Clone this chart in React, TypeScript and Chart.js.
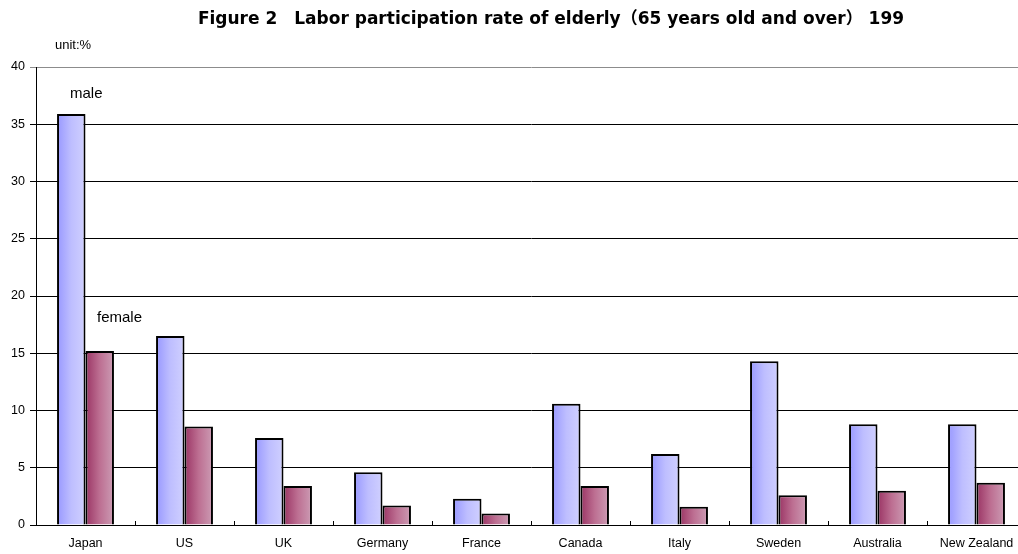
import React, { useEffect, useRef } from "react";
import { Chart, registerables } from "chart.js";

Chart.register(...registerables);

// Labor participation rate (%) of people aged 65 and over
const countries = [
  "Japan",
  "US",
  "UK",
  "Germany",
  "France",
  "Canada",
  "Italy",
  "Sweden",
  "Australia",
  "New Zealand",
];
const maleRates = [35.9, 16.5, 7.6, 4.6, 2.3, 10.6, 6.2, 14.3, 8.8, 8.8];
const femaleRates = [15.2, 8.6, 3.4, 1.7, 1.0, 3.4, 1.6, 2.6, 3.0, 3.7];
const seriesNames = ["male", "female"];

const yMin = 0;
const yMax = 40;
const yStep = 5;

const titleText =
  "Figure 2\u3000Labor participation rate of elderly\uff0865 years old and over\uff09 199";
const unitText = "unit:%";

const FONT = '"Liberation Sans", Arial, "Noto Sans CJK JP", sans-serif';
const TITLE_FONT = '"DejaVu Sans", "Noto Sans CJK JP", sans-serif';
const CATEGORY_SHARE = 0.575;

// Horizontal gradient fills for each bar series: [left, middle, right]
const seriesGradients = [
  ["#9898ff", "#bebeff", "#d0d0ff"],
  ["#9a3464", "#bd6f92", "#cc9cb4"],
];

function barFill(c: any) {
  const chart = c.chart;
  const xs = chart.scales && chart.scales.x;
  const stops = seriesGradients[c.datasetIndex] || seriesGradients[0];
  if (!xs || c.type !== "data" || !isFinite(xs.width) || xs.width <= 0) {
    return stops[1];
  }
  const center = xs.getPixelForValue(c.dataIndex);
  const w = (xs.width / countries.length) * CATEGORY_SHARE / 2;
  const left = c.datasetIndex === 0 ? center - w : center;
  const g = chart.ctx.createLinearGradient(left, 0, left + w, 0);
  g.addColorStop(0, stops[0]);
  g.addColorStop(0.5, stops[1]);
  g.addColorStop(1, stops[2]);
  return g;
}

const annotations = {
  id: "annotations",
  afterDraw(chart: any) {
    const { ctx, chartArea } = chart;
    const xs = chart.scales.x;
    ctx.save();

    // small inward tick marks at category boundaries
    ctx.strokeStyle = "#000";
    ctx.lineWidth = 1;
    for (let i = 1; i < countries.length; i++) {
      const bx =
        Math.round((xs.getPixelForValue(i - 1) + xs.getPixelForValue(i)) / 2) + 0.5;
      ctx.beginPath();
      ctx.moveTo(bx, chartArea.bottom);
      ctx.lineTo(bx, chartArea.bottom - 4);
      ctx.stroke();
    }

    ctx.fillStyle = "#000";
    ctx.textBaseline = "middle";

    ctx.font = `bold 17px ${TITLE_FONT}`;
    ctx.textAlign = "center";
    ctx.fillText(titleText, 551, 20);

    ctx.textAlign = "left";
    ctx.font = `13px ${FONT}`;
    ctx.fillText(unitText, 55, 45);

    ctx.font = `15px ${FONT}`;
    ctx.fillText(seriesNames[0], 70, 94);
    ctx.fillText(seriesNames[1], 97, 318);

    ctx.restore();
  },
};

export default function App() {
  const canvasRef = useRef<HTMLCanvasElement | null>(null);

  useEffect(() => {
    const canvas = canvasRef.current;
    if (!canvas) return;

    const chart = new Chart(canvas, {
      type: "bar",
      data: {
        labels: countries,
        datasets: [
          {
            label: seriesNames[0],
            data: maleRates,
            backgroundColor: barFill,
            borderColor: "#000",
            borderWidth: 2,
            borderSkipped: "start",
            categoryPercentage: CATEGORY_SHARE,
            barPercentage: 1,
          },
          {
            label: seriesNames[1],
            data: femaleRates,
            backgroundColor: barFill,
            borderColor: "#000",
            borderWidth: 2,
            borderSkipped: "start",
            categoryPercentage: CATEGORY_SHARE,
            barPercentage: 1,
          },
        ],
      },
      options: {
        responsive: false,
        animation: false,
        layout: { padding: { top: 67, right: 14, left: 0, bottom: 0 } },
        plugins: {
          legend: { display: false },
          tooltip: { enabled: false },
          title: { display: false },
        },
        scales: {
          x: {
            grid: { display: false, drawTicks: false },
            border: { color: "#000", width: 1 },
            ticks: {
              color: "#000",
              font: { family: FONT, size: 12.5 },
              padding: 11,
              maxRotation: 0,
              autoSkip: false,
            },
            afterFit(s: any) {
              s.height = 29;
            },
          },
          y: {
            min: yMin,
            max: yMax,
            ticks: {
              stepSize: yStep,
              color: "#000",
              font: { family: FONT, size: 12.5 },
              padding: 5,
            },
            grid: {
              color: (c: any) =>
                c.tick && c.tick.value === yMax ? "#8c8c8c" : "#000",
              lineWidth: 1,
              tickLength: 6,
            },
            border: { color: "#000", width: 1 },
            afterFit(s: any) {
              s.width = 36;
            },
          },
        },
      },
      plugins: [annotations],
    } as any);

    return () => chart.destroy();
  }, []);

  return (
    <div
      style={{
        position: "fixed",
        left: 0,
        top: 0,
        width: 1018,
        height: 554,
        overflow: "hidden",
        background: "#fff",
      }}
    >
      <canvas
        ref={canvasRef}
        width={1040}
        height={554}
        style={{ display: "block", width: 1040, height: 554 }}
      />
    </div>
  );
}
